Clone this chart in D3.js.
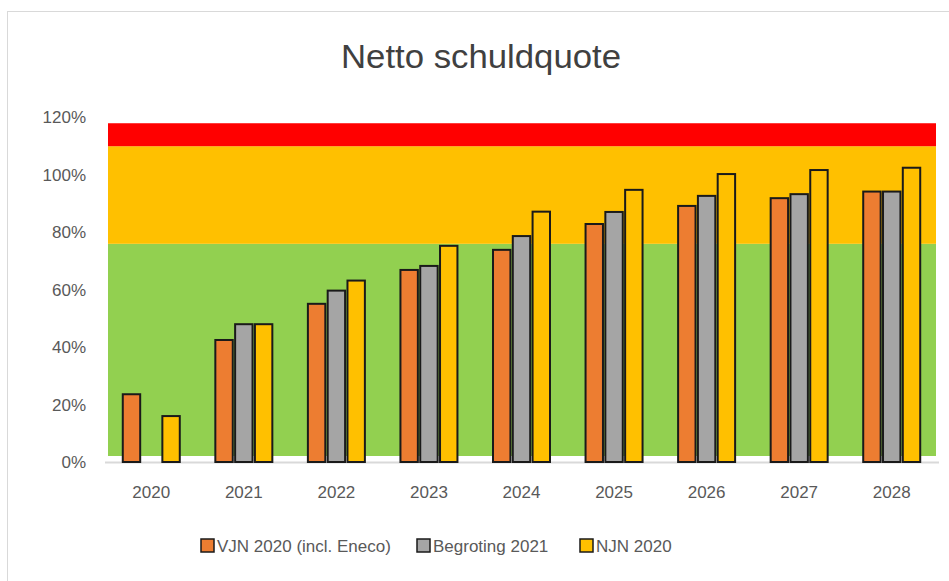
<!DOCTYPE html>
<html>
<head>
<meta charset="utf-8">
<script src="https://cdn.jsdelivr.net/npm/d3@7"></script>
<style>
  body { margin: 0; background: #fff; }
  svg { display: block; }
</style>
</head>
<body>
<script>
// data
let years = ["2020", "2021", "2022", "2023", "2024", "2025", "2026", "2027", "2028"];
let seriesNames = ["VJN 2020 (incl. Eneco)", "Begroting 2021", "NJN 2020"];
let vjn = [23.6, 42.5, 55.1, 66.9, 73.9, 82.9, 89.2, 91.9, 94.2];
let begroting = [null, 48.0, 59.7, 68.3, 78.7, 87.1, 92.7, 93.3, 94.2];
let njn = [16.0, 48.0, 63.2, 75.3, 87.2, 94.8, 100.3, 101.7, 102.5];
let seriesColors = ["#ED7D31", "#A5A5A5", "#FFC000"];
// background zones (from, to)
let zones = [[0, 76, "#92D050"], [76, 110, "#FFC000"], [110, 118, "#FF0000"]];
let yTicks = [0, 20, 40, 60, 80, 100, 120];

let width = 949, height = 581;
let svg = d3.select("body").append("svg").attr("width", width).attr("height", height);

// chart frame
svg.append("rect").attr("x", 7.5).attr("y", 11.5).attr("width", 960).attr("height", 600)
    .attr("fill", "#fff").attr("stroke", "#d9d9d9");

let x = d3.scaleBand().domain(years).range([105, 938]);
let y = d3.scaleLinear().domain([0, 120]).range([462, 117.5]);

svg.append("text").attr("x", 481).attr("y", 68).attr("text-anchor", "middle")
    .attr("font-family", "'Liberation Sans Narrow', 'Liberation Sans', sans-serif")
    .attr("font-size", 33).attr("fill", "#404040")
    .attr("textLength", 280).attr("lengthAdjust", "spacingAndGlyphs")
    .text("Netto schuldquote");

// zones
svg.append("g").selectAll("rect").data(zones).join("rect")
    .attr("x", 108).attr("width", 828)
    .attr("y", d => y(d[1]))
    .attr("height", d => (d[0] === 0 ? y(d[0]) - 6 : y(d[0])) - y(d[1]))
    .attr("fill", d => d[2]);

// axis line
svg.append("line").attr("x1", 105).attr("x2", 939).attr("y1", 462.5).attr("y2", 462.5)
    .attr("stroke", "#d9d9d9").attr("stroke-width", 2);

// y labels
svg.append("g").selectAll("text").data(yTicks).join("text")
    .attr("x", 86).attr("y", d => y(d)).attr("dy", "0.35em").attr("text-anchor", "end")
    .attr("font-family", "'Liberation Sans', sans-serif").attr("font-size", 17)
    .attr("fill", "#595959").text(d => d + "%");

// x labels
svg.append("g").selectAll("text").data(years).join("text")
    .attr("x", d => x(d) + x.bandwidth() / 2).attr("y", 498).attr("text-anchor", "middle")
    .attr("font-family", "'Liberation Sans', sans-serif").attr("font-size", 17)
    .attr("fill", "#595959").text(d => d);

// bars
let series = [vjn, begroting, njn];
let xs = d3.scaleBand().domain([0, 1, 2]).range([-28.5, 28.5]).paddingInner(0.12);
series.forEach((vals, s) => {
    svg.append("g").selectAll("rect")
        .data(years.map((yr, i) => ({yr, v: vals[i]})).filter(d => d.v != null))
        .join("rect")
        .attr("x", d => x(d.yr) + x.bandwidth() / 2 + xs(s))
        .attr("width", xs.bandwidth())
        .attr("y", d => y(d.v))
        .attr("height", d => y(0) - y(d.v))
        .attr("fill", seriesColors[s])
        .attr("stroke", "#1a1a1a").attr("stroke-width", 2);
});

// legend
let legendX = [201, 417, 580];
let lg = svg.append("g").selectAll("g").data(seriesNames).join("g")
    .attr("transform", (d, i) => `translate(${legendX[i]}, 546)`);
lg.append("rect").attr("x", 0).attr("y", -7).attr("width", 13).attr("height", 13)
    .attr("fill", (d, i) => seriesColors[i]).attr("stroke", "#1a1a1a").attr("stroke-width", 1.5);
lg.append("text").attr("x", 16).attr("y", 0).attr("dy", "0.35em")
    .attr("font-family", "'Liberation Sans', sans-serif").attr("font-size", 17)
    .attr("fill", "#595959").text(d => d);
</script>
</body>
</html>
